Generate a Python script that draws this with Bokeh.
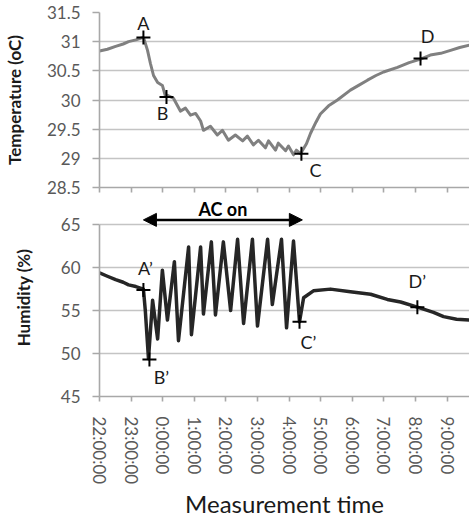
from bokeh.plotting import figure
from bokeh.layouts import column
from bokeh.models import Range1d, FixedTicker, Arrow, NormalHead, Label, CustomLabelingPolicy
from bokeh.embed import file_html
from bokeh.resources import INLINE
from bokeh.core.properties import value

# ---------------- data ----------------
# x positions are hours after 22:00
hour_ticks = [0, 1, 2, 3, 4, 5, 6, 7, 8, 9, 10, 11]
time_labels = ["22:00:00", "23:00:00", "0:00:00", "1:00:00", "2:00:00", "3:00:00",
               "4:00:00", "5:00:00", "6:00:00", "7:00:00", "8:00:00", "9:00:00"]
x_end_hours = 11.71

temp_ticks = [28.5, 29, 29.5, 30, 30.5, 31, 31.5]
temp_tick_labels = ["28.5", "29", "29.5", "30", "30.5", "31", "31.5"]
hum_ticks = [45, 50, 55, 60, 65]
hum_tick_labels = ["45", "50", "55", "60", "65"]

temp_hours = [0.00, 0.25, 0.51, 0.75, 0.92, 1.15, 1.36, 1.40, 1.52, 1.61, 1.71, 1.84,
              1.99, 2.09, 2.15, 2.34, 2.56, 2.72, 2.88, 3.04, 3.20, 3.29, 3.51, 3.73,
              3.89, 4.08, 4.30, 4.53, 4.68, 4.87, 5.03, 5.25, 5.35, 5.57, 5.66, 5.89,
              5.98, 6.14, 6.23, 6.36, 6.55, 6.68, 6.85, 6.99, 7.25, 7.53, 7.94, 8.20,
              8.48, 8.75, 8.99, 9.43, 9.80, 10.16, 10.47, 10.80, 11.11, 11.40, 11.71]
temp_values = [30.84, 30.87, 30.92, 30.96, 31.00, 31.03, 31.07, 31.06, 30.85, 30.63, 30.42, 30.30,
               30.25, 30.06, 30.08, 30.03, 29.81, 29.86, 29.74, 29.77, 29.64, 29.48, 29.55, 29.40,
               29.48, 29.31, 29.40, 29.30, 29.38, 29.23, 29.31, 29.18, 29.30, 29.14, 29.26, 29.13,
               29.21, 29.06, 29.14, 29.08, 29.25, 29.43, 29.62, 29.76, 29.90, 30.00, 30.17, 30.25,
               30.34, 30.42, 30.48, 30.56, 30.64, 30.70, 30.77, 30.80, 30.85, 30.90, 30.94]

hum_hours = [0.00, 0.25, 0.51, 0.75, 0.92, 1.15, 1.39, 1.45, 1.55, 1.68, 1.84, 1.99,
             2.15, 2.37, 2.50, 2.82, 2.91, 3.20, 3.29, 3.54, 3.67, 3.92, 4.15, 4.37,
             4.56, 4.84, 5.00, 5.32, 5.47, 5.76, 5.92, 6.14, 6.33, 6.46, 6.77, 7.31,
             7.94, 8.58, 9.11, 9.53, 10.06, 10.57, 10.89, 11.30, 11.71]
hum_values = [59.4, 59.0, 58.6, 58.3, 58.0, 57.8, 57.5, 55.0, 49.4, 56.2, 51.7, 59.7,
              53.9, 60.7, 51.5, 62.4, 52.2, 62.4, 54.6, 63.0, 54.5, 63.0, 55.0, 63.3,
              53.5, 63.3, 53.2, 63.3, 55.7, 63.3, 53.0, 63.1, 53.7, 56.5, 57.3, 57.5,
              57.2, 56.9, 56.3, 56.0, 55.4, 54.8, 54.3, 54.0, 53.9]

temp_mark_names = ["A", "B", "C", "D"]
temp_mark_hours = [1.39, 2.12, 6.39, 10.16]
temp_mark_values = [31.07, 30.05, 29.08, 30.71]

hum_mark_names = ["A\u2019", "B\u2019", "C\u2019", "D\u2019"]
hum_mark_hours = [1.39, 1.58, 6.33, 10.06]
hum_mark_values = [57.4, 49.3, 53.7, 55.4]

ac_on_start = 1.39
ac_on_end = 6.42
ac_on_text = "AC on"

# ---------------- style ----------------
FONT = "Lato"
GRID = "#c4c4c4"
AXIS = "#a8a8a8"
TICK_TXT = "#595959"
x_range = Range1d(0, x_end_hours)


def style_axes(p, yticks, ylabels, ytitle, ystandoff):
    p.xgrid.visible = False
    p.ygrid.grid_line_color = GRID
    p.ygrid.grid_line_width = 1.6
    p.outline_line_color = None
    p.xaxis.ticker = FixedTicker(ticks=hour_ticks)
    p.yaxis.ticker = FixedTicker(ticks=yticks)
    p.yaxis.major_label_overrides = dict(zip(yticks, ylabels))
    for ax in (p.xaxis[0], p.yaxis[0]):
        ax.axis_line_color = AXIS
        ax.axis_line_width = 1.6
        ax.major_tick_line_color = AXIS
        ax.major_tick_line_width = 1.6
        ax.minor_tick_line_color = None
        ax.major_tick_in = 0
        ax.major_label_text_font = FONT
        ax.major_label_text_font_size = "17px"
        ax.major_label_text_color = TICK_TXT
    p.xaxis.major_tick_out = 5
    p.yaxis.major_tick_out = 7
    p.yaxis.major_label_standoff = 12
    p.yaxis.axis_label = ytitle
    p.yaxis.axis_label_text_font = FONT
    p.yaxis.axis_label_text_font_size = "17px"
    p.yaxis.axis_label_text_font_style = "bold"
    p.yaxis.axis_label_text_color = "#1a1a1a"
    p.yaxis.axis_label_standoff = ystandoff


def add_marks(p, xs, ys, names, dx, dy):
    p.scatter(xs, ys, marker="cross", size=14, line_width=2, color="black")
    p.text(xs, ys, text=names, x_offset=dx, y_offset=dy, text_align="center",
           text_baseline="middle", text_font=value(FONT), text_font_size="18px",
           text_color="#1a1a1a")


# ---------------- top: temperature ----------------
p1 = figure(width=469, height=198, x_range=x_range, y_range=Range1d(28.5, 31.5),
            output_backend="svg", toolbar_location=None,
            min_border_left=99, min_border_right=0, min_border_top=12, min_border_bottom=11)
style_axes(p1, temp_ticks, temp_tick_labels, "Temperature (oC)", 19)
p1.xaxis.major_label_text_font_size = "0px"
p1.xaxis.major_label_standoff = 0
p1.xaxis.major_label_policy = CustomLabelingPolicy(code="for (const i of indices) indices.unset(i)")
p1.line(temp_hours, temp_values, line_color="#808080", line_width=3, line_join="round")
add_marks(p1, temp_mark_hours, temp_mark_values, temp_mark_names,
          [0, -4, 14, 7], [-15, 16, 16, -23])

# ---------------- bottom: humidity ----------------
hum_top = 68.05  # room above the 65 line for the "AC on" arrow
p2 = figure(width=469, height=323, x_range=x_range, y_range=Range1d(45, hum_top),
            output_backend="svg", toolbar_location=None,
            min_border_left=99, min_border_right=0, min_border_top=0, min_border_bottom=119)
style_axes(p2, hum_ticks, hum_tick_labels, "Humidity (%)", 24)
p2.yaxis.bounds = (45, 65)
p2.xaxis.major_label_overrides = dict(zip(hour_ticks, time_labels))
p2.xaxis.major_label_orientation = "vertical"
p2.xaxis.major_label_standoff = 15
p2.xaxis.axis_label = "Measurement time"
p2.xaxis.axis_label_text_font = FONT
p2.xaxis.axis_label_text_font_size = "24px"
p2.xaxis.axis_label_text_font_style = "normal"
p2.xaxis.axis_label_text_color = "#1a1a1a"
p2.xaxis.axis_label_standoff = 2
p2.line(hum_hours, hum_values, line_color="#262626", line_width=3.5, line_join="round")
add_marks(p2, hum_mark_hours, hum_mark_values, hum_mark_names,
          [2, 12, 9, 0], [-22, 17, 20, -26])

p2.add_layout(Arrow(x_start=ac_on_start, x_end=ac_on_end, y_start=65.56, y_end=65.56,
                    line_width=2.5, line_color="black",
                    start=NormalHead(size=13, fill_color="black", line_color="black"),
                    end=NormalHead(size=13, fill_color="black", line_color="black")))
p2.add_layout(Label(x=(ac_on_start + ac_on_end) / 2, y=66.81, text=ac_on_text,
                    text_align="center", text_baseline="middle", text_font=FONT,
                    text_font_size="18px", text_font_style="bold", text_color="black"))

layout = column(p1, p2)
open("out.html", "w").write(file_html(layout, INLINE))
